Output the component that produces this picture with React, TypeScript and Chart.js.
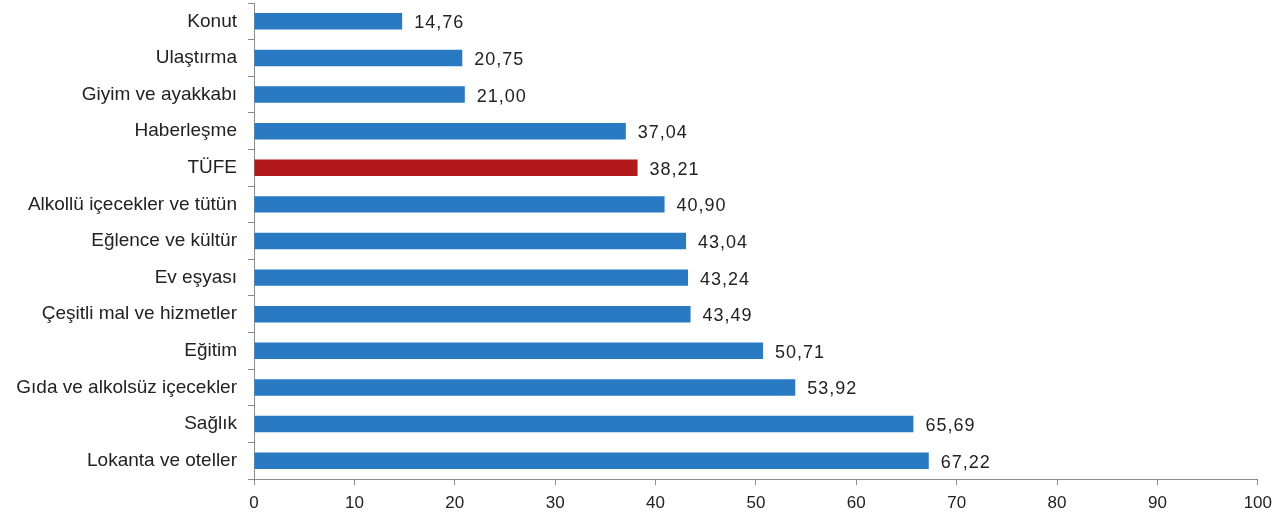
import React, { useEffect, useRef } from "react";
import { Chart, registerables } from "chart.js";

Chart.register(...registerables);

const categories = [
  "Konut",
  "Ulaştırma",
  "Giyim ve ayakkabı",
  "Haberleşme",
  "TÜFE",
  "Alkollü içecekler ve tütün",
  "Eğlence ve kültür",
  "Ev eşyası",
  "Çeşitli mal ve hizmetler",
  "Eğitim",
  "Gıda ve alkolsüz içecekler",
  "Sağlık",
  "Lokanta ve oteller",
];

const values = [14.76, 20.75, 21.0, 37.04, 38.21, 40.9, 43.04, 43.24, 43.49, 50.71, 53.92, 65.69, 67.22];

const highlightCategory = "TÜFE";
const BLUE = "#2979C3";
const RED = "#B2191B";
const AXIS = "#8C8C8C";
const FONT = "'Liberation Sans', Arial, sans-serif";

const valueLabels = {
  id: "valueLabels",
  afterDatasetsDraw(chart: any) {
    const ctx = chart.ctx;
    const meta = chart.getDatasetMeta(0);
    ctx.save();
    ctx.font = `18px ${FONT}`;
    (ctx as any).letterSpacing = "1px";
    ctx.fillStyle = "#222";
    ctx.textAlign = "left";
    ctx.textBaseline = "middle";
    meta.data.forEach((bar: any, i: number) => {
      const txt = values[i].toFixed(2).replace(".", ",");
      ctx.fillText(txt, bar.x + 12, bar.y + 2);
    });
    ctx.restore();
  },
};

export default function App() {
  const ref = useRef<HTMLCanvasElement | null>(null);
  useEffect(() => {
    document.body.style.margin = "0";
    const chart = new Chart(ref.current as HTMLCanvasElement, {
      type: "bar",
      data: {
        labels: categories,
        datasets: [
          {
            data: values,
            backgroundColor: categories.map((c) => (c === highlightCategory ? RED : BLUE)),
            borderWidth: 0,
            barPercentage: 0.9,
            categoryPercentage: 0.5,
          },
        ],
      },
      options: {
        indexAxis: "y",
        animation: false,
        responsive: false,
        devicePixelRatio: 1,
        layout: { padding: { top: 3, right: 21, left: 0, bottom: 0 } },
        plugins: { legend: { display: false }, tooltip: { enabled: false } },
        scales: {
          x: {
            min: 0,
            max: 100,
            ticks: { stepSize: 10, color: "#222", font: { family: FONT, size: 17 }, padding: 8 },
            grid: { drawOnChartArea: false, drawTicks: true, tickLength: 6, color: AXIS },
            border: { color: AXIS, width: 1 },
            afterFit: (s: any) => {
              s.height = 45;
            },
          },
          y: {
            ticks: { color: "#222", font: { family: FONT, size: 19 }, padding: 11 },
            grid: { offset: true, drawOnChartArea: false, tickLength: 6, color: AXIS },
            border: { color: AXIS, width: 1 },
            afterFit: (s: any) => {
              s.width = 254;
              s.paddingTop = 0;
              s.paddingBottom = 0;
            },
          },
        },
      },
      plugins: [valueLabels],
    });
    return () => chart.destroy();
  }, []);
  return <canvas ref={ref} width={1280} height={524} style={{ display: "block" }} />;
}
